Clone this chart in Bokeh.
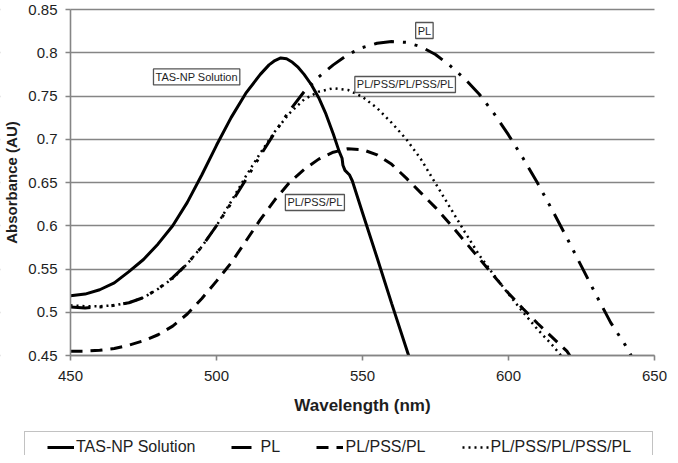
from bokeh.plotting import figure
from bokeh.models import Range1d, FixedTicker, Legend, LegendItem, Label, BoxAnnotation
from bokeh.embed import file_html
from bokeh.resources import INLINE

# ---------------- data ----------------
tas_wavelength = [450, 455, 460, 465, 470, 475, 480, 485, 490, 495, 500, 505, 510,
                  515, 518, 520, 522, 524, 526, 528, 530, 532.5, 535, 537.5, 540,
                  542, 543, 543.3, 544, 545.5, 546.5, 550, 555, 560, 565.8]
tas_absorbance = [0.519, 0.521, 0.526, 0.534, 0.547, 0.561, 0.579, 0.600, 0.627,
                  0.659, 0.693, 0.725, 0.753, 0.775, 0.786, 0.791, 0.794, 0.793,
                  0.789, 0.783, 0.775, 0.763, 0.748, 0.729, 0.706, 0.686, 0.678,
                  0.670, 0.664, 0.659, 0.652, 0.615, 0.563, 0.510, 0.450]

pl_wavelength = [450, 455, 460, 465, 470, 475, 480, 485, 490, 495, 500, 505, 510,
                 515, 520, 525, 530, 535, 540, 545, 550, 555, 560, 565, 570, 575,
                 580, 585, 590, 595, 600, 605, 610, 615, 620, 625, 630, 635, 640, 642]
pl_absorbance = [0.506, 0.505, 0.506, 0.508, 0.511, 0.517, 0.527, 0.540, 0.556,
                 0.576, 0.600, 0.626, 0.653, 0.681, 0.708, 0.733, 0.755, 0.772,
                 0.786, 0.798, 0.806, 0.811, 0.813, 0.812, 0.807, 0.798, 0.785,
                 0.770, 0.752, 0.730, 0.705, 0.678, 0.649, 0.618, 0.586, 0.553,
                 0.520, 0.488, 0.462, 0.450]

pps_wavelength = [450, 455, 460, 465, 470, 475, 480, 485, 490, 495, 500, 505, 510,
                  515, 520, 525, 530, 535, 540, 545, 550, 555, 560, 565, 570, 575,
                  580, 585, 590, 595, 600, 605, 610, 615, 620, 621]
pps_absorbance = [0.455, 0.455, 0.456, 0.458, 0.462, 0.467, 0.474, 0.484, 0.498,
                  0.516, 0.536, 0.557, 0.582, 0.607, 0.630, 0.650, 0.665, 0.677,
                  0.685, 0.689, 0.688, 0.682, 0.671, 0.655, 0.638, 0.621, 0.602,
                  0.582, 0.562, 0.542, 0.522, 0.504, 0.487, 0.471, 0.455, 0.450]

pp5_wavelength = [450, 455, 460, 465, 470, 475, 480, 485, 490, 495, 500, 505, 510,
                  515, 520, 525, 530, 535, 540, 545, 550, 555, 560, 565, 570, 575,
                  580, 585, 590, 595, 600, 605, 610, 615, 618]
pp5_absorbance = [0.508, 0.507, 0.507, 0.508, 0.511, 0.517, 0.527, 0.539, 0.556,
                  0.576, 0.600, 0.628, 0.657, 0.684, 0.709, 0.730, 0.746, 0.755,
                  0.759, 0.757, 0.749, 0.736, 0.719, 0.700, 0.677, 0.649, 0.621,
                  0.593, 0.566, 0.543, 0.521, 0.500, 0.480, 0.462, 0.450]

series_names = ["TAS-NP Solution", "PL", "PL/PSS/PL", "PL/PSS/PL/PSS/PL"]

x_ticks = [450, 500, 550, 600, 650]
y_ticks = [0.45, 0.5, 0.55, 0.6, 0.65, 0.7, 0.75, 0.8, 0.85]
y_tick_labels = ["0.45", "0.5", "0.55", "0.6", "0.65", "0.7", "0.75", "0.8", "0.85"]

x_label = "Wavelength (nm)"
y_label = "Absorbance (AU)"

# ---------------- layout constants ----------------
FONT = "Liberation Sans"
GRID = "#858585"
TXT = "#1e1e1e"

W, H = 670, 455
X_MIN, X_MAX = x_ticks[0], x_ticks[-1]
Y_MIN, Y_MAX = y_ticks[0], y_ticks[-1]
PLOT_W, PLOT_H = 584, 346                # pixel size of the data area
PAD_L, PAD_R, PAD_T, PAD_B = 70, 16, 9, 100  # canvas room around the data area
PX_X = PLOT_W / (X_MAX - X_MIN)
PX_Y = PLOT_H / (Y_MAX - Y_MIN)

p = figure(width=W, height=H, output_backend="svg", toolbar_location=None,
           x_range=Range1d(X_MIN - PAD_L / PX_X, X_MAX + PAD_R / PX_X),
           y_range=Range1d(Y_MIN - PAD_B / PX_Y, Y_MAX + PAD_T / PX_Y),
           min_border_left=0, min_border_right=0, min_border_top=0,
           min_border_bottom=0)
p.outline_line_color = None
p.background_fill_color = "white"
p.border_fill_color = "white"

p.xgrid.visible = False
p.ygrid.ticker = FixedTicker(ticks=y_ticks)
p.ygrid.grid_line_color = GRID
p.ygrid.grid_line_width = 1.6

# white strips outside the data area so grid lines stop at the axes
p.add_layout(BoxAnnotation(right=X_MIN, fill_color="white", fill_alpha=1.0,
                           line_color=None, level="underlay"))
p.add_layout(BoxAnnotation(left=X_MAX, fill_color="white", fill_alpha=1.0,
                           line_color=None, level="underlay"))

p.xaxis.ticker = FixedTicker(ticks=x_ticks)
p.yaxis.ticker = FixedTicker(ticks=y_ticks)
p.yaxis.major_label_overrides = {t: s for t, s in zip(y_ticks, y_tick_labels)}
p.xaxis.fixed_location = Y_MIN
p.yaxis.fixed_location = X_MIN
p.xaxis.bounds = (X_MIN, X_MAX)
p.yaxis.bounds = (Y_MIN, Y_MAX)

for ax in (p.xaxis[0], p.yaxis[0]):
    ax.axis_line_color = GRID
    ax.axis_line_width = 1.6
    ax.major_tick_line_color = GRID
    ax.major_tick_line_width = 1.6
    ax.major_tick_in = 0
    ax.major_tick_out = 5
    ax.minor_tick_line_color = None
    ax.major_label_text_font = FONT
    ax.major_label_text_font_size = "15px"
    ax.major_label_text_color = TXT
    ax.axis_label_text_font = FONT
    ax.axis_label_text_font_style = "bold"
    ax.axis_label_text_color = TXT

p.xaxis.axis_label = x_label
p.yaxis.axis_label = y_label
p.xaxis.axis_label_text_font_size = "17px"
p.yaxis.axis_label_text_font_size = "15px"
p.xaxis.major_label_standoff = 10
p.xaxis.axis_label_standoff = 12
p.yaxis.major_label_standoff = 8
p.yaxis.axis_label_standoff = 5

# ---------------- curves ----------------
r_tas = p.line(tas_wavelength, tas_absorbance, line_color="black", line_width=3)
r_pl = p.line(pl_wavelength, pl_absorbance, line_color="black", line_width=3,
              line_dash="20 9 3 9 3 9")
r_pps = p.line(pps_wavelength, pps_absorbance, line_color="black", line_width=3,
               line_dash="12 8")
r_pp5 = p.line(pp5_wavelength, pp5_absorbance, line_color="black", line_width=2.5,
               line_dash="2 4")

# ---------------- in-plot labels ----------------
label_specs = [
    (493.2, 0.772, series_names[0]),
    (571.2, 0.8257, series_names[1]),
    (564.6, 0.7633, series_names[3]),
    (533.7, 0.6269, series_names[2]),
]
for lx, ly, txt in label_specs:
    p.add_layout(Label(x=lx, y=ly, text=txt, text_align="center",
                       text_baseline="middle", text_font=FONT,
                       text_font_size="11px", text_color=TXT,
                       border_line_color="#555555", border_line_width=1.3,
                       background_fill_color="white", padding=2))

# ---------------- legend (box + items) ----------------
r_dummy = p.line(x=[], y=[], line_alpha=0)
box = Legend(items=[LegendItem(label=" ", renderers=[r_dummy])],
             location=(24, -8), orientation="horizontal",
             glyph_width=607, glyph_height=30, label_width=20, label_height=30,
             label_standoff=0, padding=0, margin=0, spacing=0,
             border_line_color=GRID, border_line_width=1.6,
             background_fill_color="white", background_fill_alpha=1.0,
             label_text_font_size="10px")
p.add_layout(box)

legend = Legend(items=[LegendItem(label=series_names[0], renderers=[r_tas]),
                       LegendItem(label=series_names[1], renderers=[r_pl]),
                       LegendItem(label=series_names[2], renderers=[r_pps]),
                       LegendItem(label=series_names[3], renderers=[r_pp5])],
                location=(47, -2), orientation="horizontal",
                glyph_width=27, glyph_height=20, label_height=20,
                label_standoff=2, spacing=36, padding=2, margin=0,
                border_line_color=None, background_fill_alpha=0,
                label_text_font=FONT, label_text_font_size="16px",
                label_text_color=TXT)
p.add_layout(legend)

open("out.html", "w").write(file_html(p, INLINE))
